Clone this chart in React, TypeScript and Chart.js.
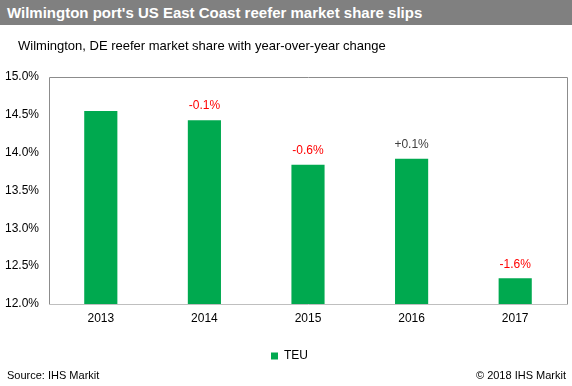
import React, { useEffect, useRef } from "react";
import { Chart, registerables } from "chart.js";

Chart.register(...registerables);

const categories = ["2013", "2014", "2015", "2016", "2017"];
const shareValues = [14.55, 14.43, 13.84, 13.92, 12.34];
const changeLabels = ["", "-0.1%", "-0.6%", "+0.1%", "-1.6%"];
const changeColors = ["#000000", "#ff0000", "#ff0000", "#404040", "#ff0000"];
const seriesName = "TEU";
const yMin = 12;
const yMax = 15;
const yStep = 0.5;

const FONT = "'Liberation Sans', Arial, sans-serif";
const GREEN = "#00a94f";

const boxPlugin = {
  id: "boxBorder",
  afterLayout(chart: any) {
    if (chart.legend) {
      chart.legend.left += 12;
    }
  },
  afterDraw(chart: any) {
    const { ctx, chartArea: a } = chart;
    const l = Math.round(a.left) + 0.5;
    const r = Math.round(a.right) + 0.5;
    const t = Math.round(a.top) + 0.5;
    const b = Math.round(a.bottom) + 0.5;
    ctx.save();
    ctx.lineWidth = 1;
    ctx.strokeStyle = "#8c8c8c";
    ctx.beginPath();
    ctx.moveTo(l, b);
    ctx.lineTo(l, t);
    ctx.lineTo(r, t);
    ctx.lineTo(r, b);
    ctx.stroke();
    ctx.strokeStyle = "#bfbfbf";
    ctx.beginPath();
    ctx.moveTo(l, b);
    ctx.lineTo(r, b);
    ctx.stroke();
    ctx.restore();
  },
};

const labelPlugin = {
  id: "changeLabels",
  afterDatasetsDraw(chart: any) {
    const { ctx } = chart;
    const meta = chart.getDatasetMeta(0);
    ctx.save();
    ctx.font = `12px ${FONT}`;
    ctx.textAlign = "center";
    ctx.textBaseline = "middle";
    meta.data.forEach((bar: any, i: number) => {
      const t = changeLabels[i];
      if (!t) return;
      ctx.fillStyle = changeColors[i];
      ctx.fillText(t, bar.x, bar.y - 14);
    });
    ctx.restore();
  },
};

export default function App() {
  const ref = useRef<HTMLCanvasElement | null>(null);

  useEffect(() => {
    if (!ref.current) return;
    const chart = new Chart(ref.current, {
      type: "bar",
      data: {
        labels: categories,
        datasets: [
          {
            label: seriesName,
            data: shareValues,
            backgroundColor: GREEN,
            categoryPercentage: 1,
            barPercentage: 0.32,
          },
        ],
      },
      options: {
        responsive: false,
        animation: false,
        devicePixelRatio: 1,
        layout: { padding: { top: 77, right: 5, left: 0, bottom: 14 } },
        plugins: {
          legend: {
            display: true,
            position: "bottom",
            labels: {
              boxWidth: 7,
              boxHeight: 7,
              padding: 10,
              color: "#000000",
              font: { family: FONT, size: 12 },
            },
          },
          tooltip: { enabled: false },
          title: { display: false },
        },
        scales: {
          x: {
            grid: { display: false, drawTicks: false },
            border: { display: false },
            ticks: { color: "#000000", font: { family: FONT, size: 12 }, padding: 7 },
            afterFit(s: any) {
              s.height = 36;
            },
          },
          y: {
            min: yMin,
            max: yMax,
            grid: { display: false, drawTicks: false },
            border: { display: false },
            ticks: {
              stepSize: yStep,
              color: "#000000",
              font: { family: FONT, size: 12 },
              padding: 10,
              callback: (v: any) => Number(v).toFixed(1) + "%",
            },
            afterFit(s: any) {
              s.width = 49;
            },
          },
        },
      },
      plugins: [boxPlugin, labelPlugin],
    });
    return () => chart.destroy();
  }, []);

  return (
    <div style={{ position: "absolute", left: 0, top: 0, width: 572, height: 386, background: "#fff", overflow: "hidden", fontFamily: FONT }}>
      <canvas ref={ref} width={572} height={386} style={{ position: "absolute", left: 0, top: 0 }} />
      <div style={{ position: "absolute", left: 0, top: 0, width: 572, height: 25, background: "#808080", color: "#fff", fontWeight: "bold", fontSize: 15, lineHeight: "25px", paddingLeft: 7, boxSizing: "border-box", whiteSpace: "nowrap" }}>
        Wilmington port's US East Coast reefer market share slips
      </div>
      <div style={{ position: "absolute", left: 18, top: 38, fontSize: 13, lineHeight: "16px", color: "#000", whiteSpace: "nowrap" }}>
        Wilmington, DE reefer market share with year-over-year change
      </div>
      <div style={{ position: "absolute", left: 7, top: 368, fontSize: 11, lineHeight: "14px", color: "#000", whiteSpace: "nowrap" }}>
        Source: IHS Markit
      </div>
      <div style={{ position: "absolute", right: 6, top: 368, fontSize: 11, lineHeight: "14px", color: "#000", whiteSpace: "nowrap" }}>
        © 2018 IHS Markit
      </div>
    </div>
  );
}
